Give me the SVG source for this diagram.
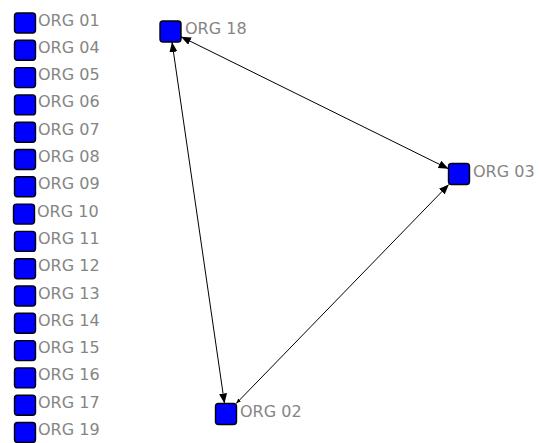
<svg xmlns="http://www.w3.org/2000/svg" width="539" height="443" viewBox="0 0 539 443">
<style>
.n{fill:#0000ff;stroke:#000;stroke-width:1.4}
.t{font-family:"DejaVu Sans",sans-serif;font-size:16px;fill:#858585}
.e{stroke:#000;stroke-width:1;fill:none}
</style>
<defs>
<marker id="ah" viewBox="0 0 10 8" refX="10" refY="4" markerWidth="10" markerHeight="8" markerUnits="userSpaceOnUse" orient="auto-start-reverse">
<path d="M0,0 L10,4 L0,8 Z" fill="#000"/>
</marker>
<marker id="as" viewBox="0 0 10 8" refX="10" refY="4" markerWidth="5" markerHeight="4" markerUnits="userSpaceOnUse" orient="auto-start-reverse">
<path d="M0,0 L10,4 L0,8 Z" fill="#000"/>
</marker>
</defs>
<rect width="539" height="443" fill="#fff"/>
<g id="connectors">
<line class="e" x1="172" y1="42" x2="224.5" y2="403.5" marker-start="url(#ah)" marker-end="url(#ah)"/>
<line class="e" x1="181" y1="36.7" x2="448.5" y2="168.8" marker-start="url(#ah)" marker-end="url(#ah)"/>
<line class="e" x1="236.2" y1="403.5" x2="448.8" y2="184.5" stroke="#333" marker-start="url(#as)" marker-end="url(#ah)"/>
</g>
<g id="org01"><rect class="n" x="14.5" y="13" width="21" height="20" rx="3"/><text class="t" x="38" y="25.5">ORG 01</text></g>
<g id="org04"><rect class="n" x="14.5" y="40.3" width="21" height="20" rx="3"/><text class="t" x="38" y="52.8">ORG 04</text></g>
<g id="org05"><rect class="n" x="14.5" y="67.6" width="21" height="20" rx="3"/><text class="t" x="38" y="80.1">ORG 05</text></g>
<g id="org06"><rect class="n" x="14.5" y="94.9" width="21" height="20" rx="3"/><text class="t" x="38" y="107.4">ORG 06</text></g>
<g id="org07"><rect class="n" x="14.5" y="122.2" width="21" height="20" rx="3"/><text class="t" x="38" y="134.7">ORG 07</text></g>
<g id="org08"><rect class="n" x="14.5" y="149.5" width="21" height="20" rx="3"/><text class="t" x="38" y="162">ORG 08</text></g>
<g id="org09"><rect class="n" x="14.5" y="176.8" width="21" height="20" rx="3"/><text class="t" x="38" y="189.3">ORG 09</text></g>
<g id="org10"><rect class="n" x="13.5" y="204.1" width="21" height="20" rx="3"/><text class="t" x="37" y="216.6">ORG 10</text></g>
<g id="org11"><rect class="n" x="14.5" y="231.4" width="21" height="20" rx="3"/><text class="t" x="38" y="243.9">ORG 11</text></g>
<g id="org12"><rect class="n" x="14.5" y="258.7" width="21" height="20" rx="3"/><text class="t" x="38" y="271.2">ORG 12</text></g>
<g id="org13"><rect class="n" x="14.5" y="286" width="21" height="20" rx="3"/><text class="t" x="38" y="298.5">ORG 13</text></g>
<g id="org14"><rect class="n" x="14.5" y="313.3" width="21" height="20" rx="3"/><text class="t" x="38" y="325.8">ORG 14</text></g>
<g id="org15"><rect class="n" x="14.5" y="340.6" width="21" height="20" rx="3"/><text class="t" x="38" y="353.1">ORG 15</text></g>
<g id="org16"><rect class="n" x="14.5" y="367.9" width="21" height="20" rx="3"/><text class="t" x="38" y="380.4">ORG 16</text></g>
<g id="org17"><rect class="n" x="14.5" y="395.2" width="21" height="20" rx="3"/><text class="t" x="38" y="407.7">ORG 17</text></g>
<g id="org19"><rect class="n" x="14.5" y="422.5" width="21" height="20" rx="3"/><text class="t" x="38" y="435">ORG 19</text></g>
<g id="org18"><rect class="n" x="160" y="21" width="21" height="21" rx="3"/><text class="t" x="185" y="33.5">ORG 18</text></g>
<g id="org03"><rect class="n" x="448.5" y="163.5" width="21" height="21" rx="3"/><text class="t" x="473" y="176.5">ORG 03</text></g>
<g id="org02"><rect class="n" x="215.5" y="403.5" width="21" height="21" rx="3"/><text class="t" x="240" y="416.5">ORG 02</text></g>
</svg>
